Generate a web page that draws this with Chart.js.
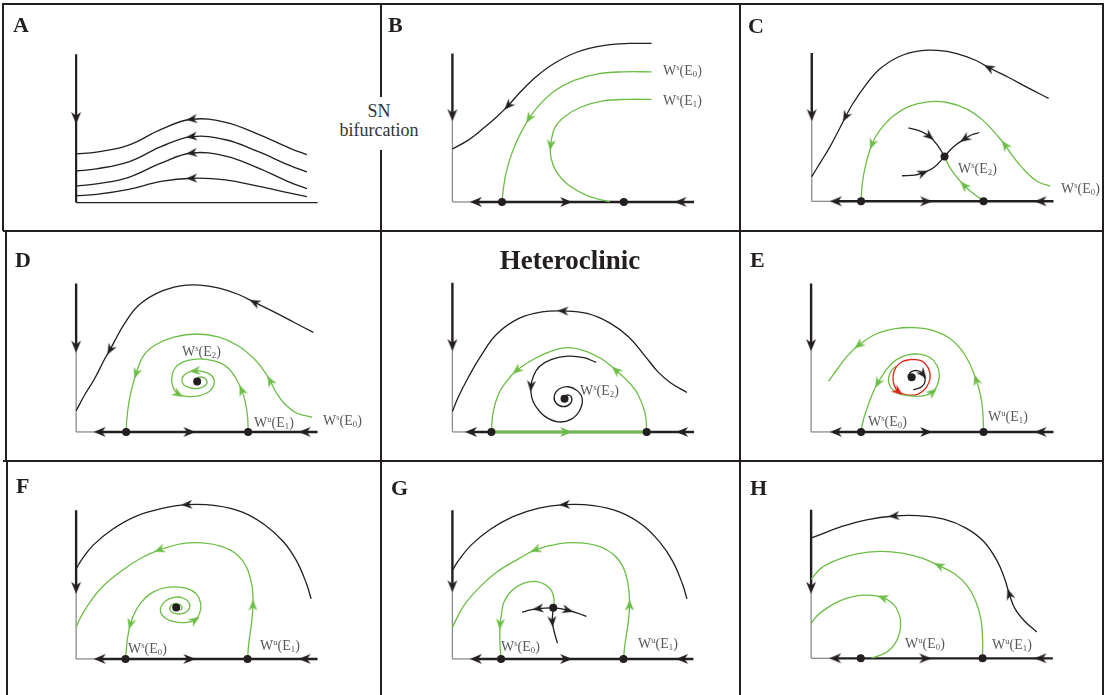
<!DOCTYPE html>
<html>
<head>
<meta charset="utf-8">
<title>Phase portraits</title>
<script src="https://cdn.jsdelivr.net/npm/chart.js@4.4.1/dist/chart.umd.min.js"></script>
<style>
  html, body { margin: 0; padding: 0; background: #fff; }
  #page { position: relative; width: 1109px; height: 695px; overflow: hidden; }
  .cell { position: absolute; }
  .rule { position: absolute; background: #231f20; z-index: 1; }
  .lbl { position: absolute; z-index: 2; white-space: nowrap; line-height: 1; font-family: "Liberation Serif", "DejaVu Serif", serif; color: #231f20; }
  .tag { font-size: 22px; font-weight: bold; }
  .title { font-size: 27px; font-weight: bold; transform: translateX(-50%); }
  .w { font-size: 14px; color: #58595b; }
  .w sup, .w sub { font-size: 0.62em; line-height: 0; }
  .w sup { vertical-align: 0.62em; }
  .w sub { vertical-align: -0.28em; }
  #sn { position: absolute; z-index: 2; left: 329px; top: 97px; width: 100px; height: 53px; padding-top: 5px; box-sizing: border-box;
        background: #fff; text-align: center; font: 18px/19px "Liberation Serif", serif; color: #333; }
</style>
</head>
<body>
<div id="page"></div>
<script>
// every panel uses its own state plane: origin at the axis corner, 3 units per screen pixel
const U = 3;

// ---- A : before the SN bifurcation ----
const aAxis = [470, 748, 268];            // [vertical axis top, horizontal axis end, arrow on vertical axis]
const aOrbit1 = [[715,152],[663,172],[563,217],[463,254],[358,264],[263,232],[163,182],[63,160],[0,154]];
const aOrbit2 = [[715,97],[663,117],[563,162],[463,199],[358,209],[263,177],[163,129],[63,107],[0,100]];
const aOrbit3 = [[715,44],[663,64],[563,110],[463,147],[358,157],[263,125],[163,80],[63,59],[0,52]];
const aOrbit4 = [[715,19],[663,30],[563,52],[463,72],[358,77],[263,67],[163,42],[63,26],[0,22]];

// ---- B ----
const bAxis = [470, 750, 275];
const bFlow = [[73,-1],[353,1],[708,-1]];
const bEq = [154, 532];
const bOuter = [[618,502],[548,502],[468,495],[388,475],[318,440],[258,395],[208,345],[173,305],[138,270],[98,235],[48,195],[0,168]];
const bStable0 = [[618,412],[528,412],[448,405],[378,385],[318,352],[268,305],[238,265],[208,210],[183,150],[166,90],[158,40],[154,0]];
const bStable1 = [[618,325],[548,325],[468,320],[398,300],[348,270],[318,235],[305,180],[306,140],[323,95],[358,55],[418,20],[488,0]];

// ---- C ----
const cAxis = [470, 750, 273];
const cFlow = [[75,-1],[355,1],[710,-1]];
const cEq = [153, 533];
const cSaddle = [[412,142]];
const cOuter = [[735,326],[670,360],[610,393],[550,423],[510,446],[450,468],[390,478],[330,476],[270,458],[210,418],[160,358],[125,305],[105,268],[82,222],[55,170],[28,125],[0,78]];
const cStable0 = [[740,48],[700,63],[660,98],[620,148],[600,178],[580,203],[530,258],[480,293],[420,313],[360,315],[300,300],[250,268],[210,223],[187,181],[168,118],[157,58],[153,0]];
const cIn1 = [[300,233],[335,223],[365,206],[390,178],[412,142]];
const cIn2 = [[520,218],[495,210],[475,198],[440,173],[412,142]];
const cIn3 = [[280,81],[320,83],[345,90],[380,108],[412,142]];
const cStable2 = [[533,0],[500,26],[473,50],[445,83],[425,113],[412,142]];

// ---- D ----
const dAxis = [470, 748, 270];
const dFlow = [[73,-1],[351,1],[708,-1]];
const dEq = [155, 533];
const dFocus = [[375,160]];
const dOuter = [[735,315],[673,348],[613,380],[553,410],[503,435],[443,455],[383,465],[323,462],[253,440],[193,400],[148,340],[118,285],[105,260],[88,230],[58,170],[28,120],[0,67]];
const dStable0 = [[731,47],[683,60],[645,90],[618,128],[601,162],[583,192],[553,230],[503,272],[443,300],[373,310],[303,300],[245,275],[208,240],[186,185],[173,140],[163,90],[157,40],[155,0]];
const dUnstable1 = [[533,0],[531,50],[523,100],[513,132],[495,170],[473,200],[443,220],[403,230],[363,230],[328,220],[305,200],[296,170],[301,140],[316,120],[348,112],[383,115],[415,130],[428,155],[421,177],[398,190],[368,193],[341,185],[328,168],[333,150],[351,140],[378,138],[401,148],[405,162],[393,173],[375,173]];

// ---- Heteroclinic ----
const hetAxis = [472, 750, 275];
const hetFlow = [[58,-1],[713,-1]];
const hetLinkFlow = [[353,1]];
const hetEq = [121, 603];
const hetFocus = [[348,105]];
const hetOuter = [[728,125],[678,155],[638,190],[598,240],[548,300],[488,345],[418,375],[343,383],[278,380],[208,360],[138,310],[88,240],[48,170],[18,110],[0,65]];
const hetLoop = [[603,0],[598,60],[575,120],[545,160],[508,195],[465,230],[415,255],[360,267],[305,255],[252,230],[200,195],[168,160],[143,120],[126,60],[121,0]];
const hetSpiral = [[446,220],[408,235],[358,240],[308,230],[271,208],[252,178],[244,145],[246,110],[258,82],[286,50],[328,32],[368,40],[395,68],[403,105],[388,130],[360,143],[330,135],[316,112],[323,90],[346,80],[366,90],[370,108],[358,117],[348,112]];

// ---- E ----
const eAxis = [470, 752, 275];
const eFlow = [[77,-1],[357,1],[712,-1]];
const eEq = [155, 535];
const eFocus = [[312,173]];
const eUnstable1 = [[535,0],[533,60],[526,115],[512,165],[494,212],[470,255],[432,295],[382,320],[322,330],[262,327],[202,310],[148,275],[112,240],[82,200],[54,160]];
const eStable0 = [[264,210],[247,190],[240,165],[247,140],[270,122],[307,114],[347,114],[377,126],[392,150],[398,180],[390,212],[370,235],[337,246],[297,243],[264,228],[240,205],[222,180],[207,155],[192,125],[177,85],[164,45],[157,15],[155,0]];
const eCycle = [[312,230],[282,222],[262,202],[254,175],[258,148],[270,128],[297,117],[332,120],[357,140],[369,170],[364,202],[344,224],[312,230]];
const eCurl = [[300,175],[310,190],[330,194],[347,183],[354,163],[344,144],[317,133]];

// ---- F ----
const fAxis = [470, 748, 225];
const fFlow = [[73,-1],[351,1],[708,-1]];
const fEq = [153, 531];
const fFocus = [[310,163]];
const fOuter = [[728,190],[713,240],[683,310],[643,370],[583,425],[513,465],[433,485],[343,488],[263,475],[183,450],[113,410],[53,360],[18,315],[0,285]];
const fUnstable1 = [[531,0],[535,50],[543,110],[548,170],[545,230],[528,290],[498,330],[453,355],[393,367],[328,365],[258,345],[203,320],[143,280],[83,230],[43,180],[13,130],[0,100]];
const fStable0 = [[310,163],[323,155],[328,165],[313,175],[295,170],[291,155],[303,145],[328,143],[348,155],[351,175],[333,192],[303,195],[275,182],[261,155],[273,132],[303,118],[338,115],[368,123],[383,145],[386,175],[373,205],[343,223],[303,228],[263,222],[228,205],[201,178],[181,145],[168,110],[159,65],[155,25],[153,0]];

// ---- G ----
const gAxis = [470, 748, 230];
const gFlow = [[73,-1],[353,1],[713,-1]];
const gEq = [151, 531];
const gSaddle = [[313,162]];
const gOuter = [[728,190],[713,240],[683,310],[643,370],[588,425],[518,465],[438,485],[348,488],[268,477],[188,450],[118,410],[58,360],[18,310],[0,280]];
const gUnstable1 = [[531,0],[536,50],[545,110],[550,170],[546,230],[530,290],[500,330],[458,355],[398,367],[333,365],[258,345],[208,318],[138,275],[78,220],[33,165],[0,100]];
const gStable0 = [[315,162],[315,190],[308,215],[288,235],[258,245],[218,238],[183,215],[160,180],[152,140],[148,110],[147,60],[151,0]];
const gOutL = [[313,162],[288,161],[266,159],[243,155],[216,148]];
const gOutR = [[313,162],[336,159],[358,154],[388,145],[416,135]];
const gOutD = [[313,162],[311,140],[310,118],[315,90],[326,50]];

// ---- H ----
const hAxis = [470, 750, 223];
const hFlow = [[75,-1],[354,1],[712,-1]];
const hEq = [154, 532];
const hOuter = [[700,83],[662,118],[632,158],[615,203],[600,253],[577,308],[537,368],[482,411],[412,440],[332,451],[257,450],[172,438],[92,416],[32,393],[0,380]];
const hUnstable1 = [[532,0],[532,63],[527,123],[510,183],[484,230],[447,266],[397,293],[342,318],[282,333],[212,338],[142,330],[77,310],[32,286],[0,250]];
const hUnstable0 = [[187,1],[232,18],[260,46],[275,83],[277,123],[264,160],[245,180],[222,192],[192,199],[152,199],[112,190],[72,173],[37,150],[17,133],[0,111]];

const BLACK = '#231f20', GREEN = '#6cbd45', RED = '#e2231a', GREY = '#8c8c8c';

const panels = [
  { box: [3, 4, 381, 231], origin: [72.33, 207.33], axis: aAxis, plain: true, flow: [], eq: [], dots: [],
    curves: [[aOrbit1, BLACK, [4]], [aOrbit2, BLACK, [4]], [aOrbit3, BLACK, [4]], [aOrbit4, BLACK, [4]]] },
  { box: [381, 4, 740, 231], origin: [448.67, 206.67], axis: bAxis, flow: bFlow, eq: bEq, dots: [],
    curves: [[bOuter, BLACK, [7]], [bStable0, GREEN, [6]], [bStable1, GREEN, [6]]] },
  { box: [740, 4, 1103, 231], origin: [808, 206], axis: cAxis, flow: cFlow, eq: cEq, dots: cSaddle,
    curves: [[cOuter, BLACK, [3, 12]], [cStable0, GREEN, [4, 13]], [cIn1, BLACK, [2]], [cIn2, BLACK, [2]],
             [cIn3, BLACK, [2]], [cStable2, GREEN, [2]]] },
  { box: [3, 231, 381, 461], origin: [72.33, 436.67], axis: dAxis, flow: dFlow, eq: dEq, dots: dFocus,
    curves: [[dOuter, BLACK, [3, 12]], [dStable0, GREEN, [4, 13]], [dUnstable1, GREEN, [3, 13, 20]]] },
  { box: [381, 231, 740, 461], origin: [448.67, 436.67], axis: hetAxis, flow: hetFlow, eq: hetEq, dots: hetFocus,
    link: hetLinkFlow,
    curves: [[hetOuter, BLACK, [7]], [hetLoop, GREEN, [4, 10]], [hetSpiral, BLACK, [6]]] },
  { box: [740, 231, 1103, 461], origin: [807.33, 436.67], axis: eAxis, flow: eFlow, eq: eEq, dots: eFocus,
    curves: [[eUnstable1, GREEN, [3, 11]], [eStable0, GREEN, [7, 17]], [eCycle, RED, [5]], [eCurl, BLACK, [3]]] },
  { box: [3, 461, 381, 695], origin: [72.33, 663.33], axis: fAxis, flow: fFlow, eq: fEq, dots: fFocus,
    curves: [[fOuter, BLACK, [7]], [fUnstable1, GREEN, [3, 10]], [fStable0, GREEN, [17, 27]]] },
  { box: [381, 461, 740, 695], origin: [448.67, 663.33], axis: gAxis, flow: gFlow, eq: gEq, dots: gSaddle,
    curves: [[gOuter, BLACK, [7]], [gUnstable1, GREEN, [3, 10]], [gStable0, GREEN, [9]],
             [gOutL, BLACK, [2]], [gOutR, BLACK, [2]], [gOutD, BLACK, [2]]] },
  { box: [740, 461, 1103, 695], origin: [807.33, 662.67], axis: hAxis, flow: hFlow, eq: hEq, dots: [],
    curves: [[hOuter, BLACK, [3, 10]], [hUnstable1, GREEN, [6]], [hUnstable0, GREEN, [7]]] }
];

const page = document.getElementById('page');

// barbed arrow head pointing right, used as a point style
function arrowImage(color, len, wid) {
  const c = document.createElement('canvas');
  c.width = len + 2;
  c.height = wid + 2;
  const g = c.getContext('2d');
  g.fillStyle = color;
  g.beginPath();
  g.moveTo(len + 1, wid / 2 + 1);
  g.lineTo(1, 1);
  g.lineTo(len * 0.3 + 1, wid / 2 + 1);
  g.lineTo(1, wid + 1);
  g.closePath();
  g.fill();
  return c;
}

const heads = {
  black: arrowImage(BLACK, 11, 9),
  green: arrowImage(GREEN, 11, 9),
  red: arrowImage(RED, 11, 9),
  axis: arrowImage(BLACK, 12, 10),
  axisGreen: arrowImage(GREEN, 12, 10)
};
const headKey = { [BLACK]: 'black', [GREEN]: 'green', [RED]: 'red' };

function line(pts, color, width, tension, order) {
  return {
    data: pts.map(p => ({ x: p[0], y: p[1] })),
    showLine: true,
    borderColor: color,
    borderWidth: width,
    pointRadius: 0,
    tension: tension,
    fill: false,
    order: order
  };
}

// arrow sits on a curve point and follows the flow from the previous to the next point
function arrowAt(pts, i) {
  const a = pts[i - 1], b = pts[i + 1];
  const ang = Math.atan2(b[1] - a[1], b[0] - a[0]);
  return { x: pts[i][0], y: pts[i][1], rot: -ang * 180 / Math.PI };
}

function buildPanel(p) {
  const [l, t, r, b] = p.box, [ox, oy] = p.origin;
  const holder = document.createElement('div');
  holder.className = 'cell';
  holder.style.left = l + 'px';
  holder.style.top = t + 'px';
  holder.style.width = (r - l) + 'px';
  holder.style.height = (b - t) + 'px';
  const cv = document.createElement('canvas');
  holder.appendChild(cv);
  page.appendChild(holder);

  const [top, end, down] = p.axis;
  const sets = [];
  const marks = { black: [], green: [], red: [], axis: [], axisGreen: [] };

  if (p.plain) {
    sets.push(line([[0, top], [0, 0]], BLACK, 2.2, 0, 4));
    sets.push(line([[0, 0], [end, 0]], BLACK, 1.3, 0, 4));
  } else {
    const first = Math.min(...p.flow.map(f => f[0]));
    sets.push(line([[0, top], [0, down]], BLACK, 2.4, 0, 4));
    sets.push(line([[0, down], [0, 0]], GREY, 1.3, 0, 4));
    sets.push(line([[0, 0], [first, 0]], GREY, 1.3, 0, 4));
    sets.push(line([[first, 0], [end, 0]], BLACK, 2.4, 0, 4));
  }
  marks.axis.push({ x: 0, y: down, rot: 90 });
  p.flow.forEach(([x, d]) => marks.axis.push({ x: x, y: 0, rot: d > 0 ? 0 : 180 }));
  if (p.link) {
    sets.push(line([[p.eq[0], 0], [p.eq[1], 0]], GREEN, 2.6, 0, 3));
    p.link.forEach(([x, d]) => marks.axisGreen.push({ x: x, y: 0, rot: d > 0 ? 0 : 180 }));
  }

  p.curves.forEach(([pts, color, idx]) => {
    sets.push(line(pts, color, 1.3, 0.4, 2));
    idx.forEach(i => marks[headKey[color]].push(arrowAt(pts, i)));
  });

  Object.keys(marks).forEach(k => {
    if (!marks[k].length) return;
    sets.push({
      data: marks[k],
      showLine: false,
      pointStyle: heads[k],
      pointRadius: 5,
      pointRotation: c => (c.raw ? c.raw.rot : 0),
      order: 1
    });
  });

  const dots = p.eq.map(x => ({ x: x, y: 0 })).concat(p.dots.map(d => ({ x: d[0], y: d[1] })));
  if (dots.length) {
    sets.push({
      data: dots,
      showLine: false,
      pointStyle: 'circle',
      pointRadius: 4,
      pointBackgroundColor: BLACK,
      pointBorderWidth: 0,
      order: 0
    });
  }

  new Chart(cv, {
    type: 'scatter',
    data: { datasets: sets },
    options: {
      animation: false,
      responsive: true,
      maintainAspectRatio: false,
      events: [],
      layout: { padding: 0 },
      plugins: { legend: { display: false }, tooltip: { enabled: false } },
      scales: {
        x: { type: 'linear', display: false, min: (l - ox) * U, max: (r - ox) * U },
        y: { type: 'linear', display: false, min: (oy - b) * U, max: (oy - t) * U }
      }
    }
  });
}

panels.forEach(buildPanel);

// table rules
const rules = [
  [3, 3, 1101, 2], [3, 230, 1101, 2], [3, 460, 1101, 2],
  [2, 3, 2, 228], [5, 231, 2, 230], [6, 461, 2, 234],
  [380, 3, 2, 692], [739, 3, 2, 692], [1102, 3, 2, 692]
];
rules.forEach(([x, y, w, h]) => {
  const d = document.createElement('div');
  d.className = 'rule';
  d.style.cssText = `left:${x}px;top:${y}px;width:${w}px;height:${h}px`;
  page.appendChild(d);
});

// texts: [html, left, baseline, class]
const W = (s, e) => `W<sup>${s}</sup>(E<sub>${e}</sub>)`;
const labels = [
  ['A', 13, 32, 'tag'], ['B', 388, 32, 'tag'], ['C', 748, 33, 'tag'],
  ['D', 15, 267, 'tag'], ['E', 750, 267, 'tag'],
  ['F', 16, 493, 'tag'], ['G', 391, 495, 'tag'], ['H', 750, 495, 'tag'],
  [W('s', 0), 663, 76, 'w'], [W('s', 1), 663, 106, 'w'],
  [W('s', 2), 958, 174, 'w'], [W('s', 0), 1061, 194, 'w'],
  [W('s', 2), 182, 357, 'w'], [W('u', 1), 254, 428, 'w'], [W('s', 0), 323, 426, 'w'],
  [W('s', 2), 580, 396, 'w'],
  [W('s', 0), 868, 427, 'w'], [W('u', 1), 988, 422, 'w'],
  [W('s', 0), 128, 654, 'w'], [W('u', 1), 260, 651, 'w'],
  [W('s', 0), 501, 652, 'w'], [W('u', 1), 638, 649, 'w'],
  [W('u', 0), 905, 649, 'w'], [W('u', 1), 992, 650, 'w'],
  ['Heteroclinic', 570, 270, 'title']
];
const sizes = { tag: 22, w: 14, title: 27 };
labels.forEach(([html, x, base, cls]) => {
  const d = document.createElement('div');
  d.className = 'lbl ' + cls;
  d.innerHTML = html;
  d.style.left = x + 'px';
  d.style.top = (base - 0.8375 * sizes[cls]) + 'px';
  page.appendChild(d);
});

const sn = document.createElement('div');
sn.id = 'sn';
sn.innerHTML = 'SN<br>bifurcation';
page.appendChild(sn);
</script>
</body>
</html>
